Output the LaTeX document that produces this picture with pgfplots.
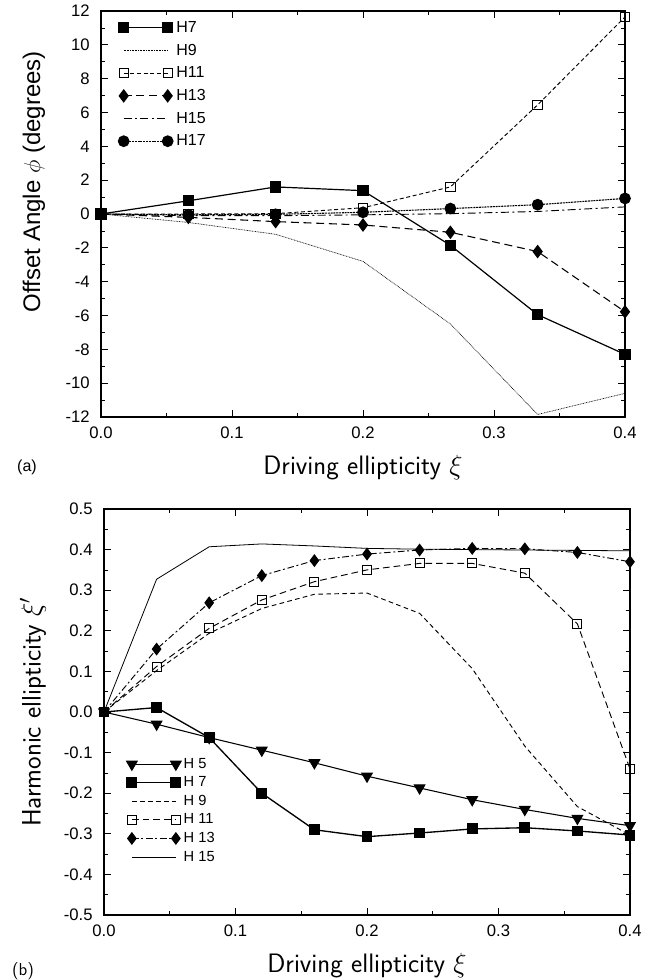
\documentclass[border=0pt]{standalone}
\usepackage{fontspec}
\setmainfont{Liberation Sans}
\usepackage{pgfplots}
\pgfplotsset{compat=1.18}

\pgfplotsset{
  gp/.style={
    scale only axis, clip=false,
    axis line style={line width=0.8pt},
    major tick length=5pt, minor tick length=3pt,
    every tick/.style={black, line width=0.6pt},
    tick label style={font=\fontsize{12.5}{14}\selectfont},
    /pgf/number format/assume math mode=true,
    xmin=0, xmax=0.4, xtick={0,0.1,0.2,0.3,0.4}, minor x tick num=1,
    xticklabel style={yshift=-4pt, /pgf/number format/fixed, /pgf/number format/fixed zerofill, /pgf/number format/precision=1},
    yticklabel style={xshift=-5pt},
    xlabel style={font=\sffamily\fontsize{20}{24}\selectfont, at={(axis description cs:0.5,-0.125)}, anchor=center},
    legend cell align=left,
    legend image code/.code={\draw[mark repeat=2,mark phase=1,##1] plot coordinates {(0pt,0pt) (16.5pt,0pt) (33pt,0pt)};},
  },
}

\begin{document}
\begin{tikzpicture}
\useasboundingbox (0,0) rectangle (493.5pt,-735pt);

% (a) offset angle
\begin{axis}[gp,
  at={(75.75pt,-8.25pt)}, anchor=north west,
  width=393pt, height=304.5pt,
  ymin=-12, ymax=12, ytick={-12,-10,...,12}, minor y tick num=1,
  xlabel={Driving ellipticity $\xi$},
  ylabel={Offset Angle $\phi$ (degrees)},
  ylabel style={font=\fontsize{18}{22}\selectfont, at={(axis description cs:-0.128,0.58)}, anchor=center},
  legend style={draw=none, fill=none, at={(axis description cs:0.025,0.99)}, anchor=north west,
    font=\fontsize{12}{14}\selectfont, row sep=2.2pt, nodes={inner sep=2.5pt}},
]
\addplot[black, line width=0.9pt, mark=square*, mark size=3.8pt, mark options={solid}]
  coordinates {(0,0) (0.0667,0.78) (0.1333,1.6) (0.2,1.38) (0.2667,-1.85) (0.3333,-5.95) (0.4,-8.3)};
\addlegendentry{H7}
\addplot[black, line width=0.5pt, dash pattern=on 0.6pt off 0.6pt]
  coordinates {(0,0) (0.0667,-0.5) (0.1333,-1.2) (0.2,-2.8) (0.2667,-6.5) (0.3333,-11.85) (0.4,-10.6)};
\addlegendentry{H9}
\addplot[black, line width=0.7pt, dash pattern=on 3pt off 2pt, mark=square, mark size=3.5pt, mark options={solid, fill=white}]
  coordinates {(0,0) (0.0667,0) (0.1333,0.02) (0.2,0.37) (0.2667,1.6) (0.3333,6.45) (0.4,11.65)};
\addlegendentry{H11}
\addplot[black, line width=0.8pt, dash pattern=on 6pt off 3.5pt, mark=diamond*, mark size=4.5pt, mark options={solid}]
  coordinates {(0,0) (0.0667,-0.2) (0.1333,-0.45) (0.2,-0.65) (0.2667,-1.08) (0.3333,-2.22) (0.4,-5.78)};
\addlegendentry{H13}
\addplot[black, line width=0.7pt, dash pattern=on 6pt off 2.5pt on 1.5pt off 2.5pt]
  coordinates {(0,0) (0.0667,-0.1) (0.1333,-0.1) (0.2,-0.05) (0.2667,0.02) (0.3333,0.15) (0.4,0.42)};
\addlegendentry{H15}
\addplot[black, line width=0.8pt, dash pattern=on 1.5pt off 0.6pt, mark=*, mark size=4pt, mark options={solid}]
  coordinates {(0,0) (0.0667,-0.05) (0.1333,-0.02) (0.2,0.1) (0.2667,0.32) (0.3333,0.55) (0.4,0.92)};
\addlegendentry{H17}
\end{axis}

% (b) harmonic ellipticity
\begin{axis}[gp,
  at={(78pt,-381.75pt)}, anchor=north west,
  width=394.5pt, height=304.5pt,
  ymin=-0.5, ymax=0.5, ytick={-0.5,-0.4,-0.3,-0.2,-0.1,0,0.1,0.2,0.3,0.4,0.5}, minor y tick num=1,
  yticklabel style={/pgf/number format/fixed, /pgf/number format/fixed zerofill, /pgf/number format/precision=1},
  xlabel={Driving ellipticity $\xi$},
  ylabel={Harmonic ellipticity $\xi'$},
  ylabel style={font=\sffamily\fontsize{20}{24}\selectfont, at={(axis description cs:-0.135,0.5)}, anchor=center},
  legend style={draw=none, fill=none, at={(axis description cs:0.035,0.4)}, anchor=north west,
    font=\fontsize{11}{12}\selectfont, row sep=0.8pt, nodes={inner sep=2pt}},
]
\addplot[black, line width=0.8pt, mark=triangle*, mark size=4.5pt, mark options={solid, rotate=180}]
  coordinates {(0,0) (0.04,-0.03) (0.08,-0.063) (0.12,-0.094) (0.16,-0.125) (0.2,-0.158) (0.24,-0.187) (0.28,-0.216) (0.32,-0.24) (0.36,-0.262) (0.4,-0.28)};
\addlegendentry{H 5}
\addplot[black, line width=1pt, mark=square*, mark size=3.6pt, mark options={solid}]
  coordinates {(0,0) (0.04,0.011) (0.08,-0.063) (0.12,-0.2) (0.16,-0.29) (0.2,-0.307) (0.24,-0.298) (0.28,-0.288) (0.32,-0.285) (0.36,-0.293) (0.4,-0.303)};
\addlegendentry{H 7}
\addplot[black, line width=0.7pt, dash pattern=on 3.5pt off 2.5pt]
  coordinates {(0,0) (0.04,0.102) (0.08,0.194) (0.12,0.255) (0.16,0.29) (0.2,0.293) (0.24,0.243) (0.28,0.107) (0.32,-0.084) (0.36,-0.233) (0.4,-0.303)};
\addlegendentry{H 9}
\addplot[black, line width=0.7pt, dash pattern=on 5pt off 3pt, mark=square, mark size=3.4pt, mark options={solid, fill=white}]
  coordinates {(0,0) (0.04,0.112) (0.08,0.206) (0.12,0.276) (0.16,0.321) (0.2,0.35) (0.24,0.366) (0.28,0.366) (0.32,0.342) (0.36,0.217) (0.4,-0.14)};
\addlegendentry{H 11}
\addplot[black, line width=0.7pt, dash pattern=on 5pt off 2pt on 1.5pt off 2pt, mark=diamond*, mark size=4.3pt, mark options={solid}]
  coordinates {(0,0) (0.04,0.155) (0.08,0.269) (0.12,0.336) (0.16,0.373) (0.2,0.389) (0.24,0.399) (0.28,0.403) (0.32,0.402) (0.36,0.393) (0.4,0.37)};
\addlegendentry{H 13}
\addplot[black, line width=0.6pt]
  coordinates {(0,0) (0.04,0.327) (0.08,0.407) (0.12,0.414) (0.16,0.409) (0.2,0.403) (0.24,0.401) (0.28,0.4) (0.32,0.399) (0.36,0.398) (0.4,0.397)};
\addlegendentry{H 15}
\end{axis}

\node[font=\fontsize{12}{14}\selectfont] at (20.25pt,-350.25pt) {(a)};
\node[font=\sffamily\fontsize{13}{15}\selectfont] at (17.25pt,-728.25pt) {(b)};
\end{tikzpicture}
\end{document}
